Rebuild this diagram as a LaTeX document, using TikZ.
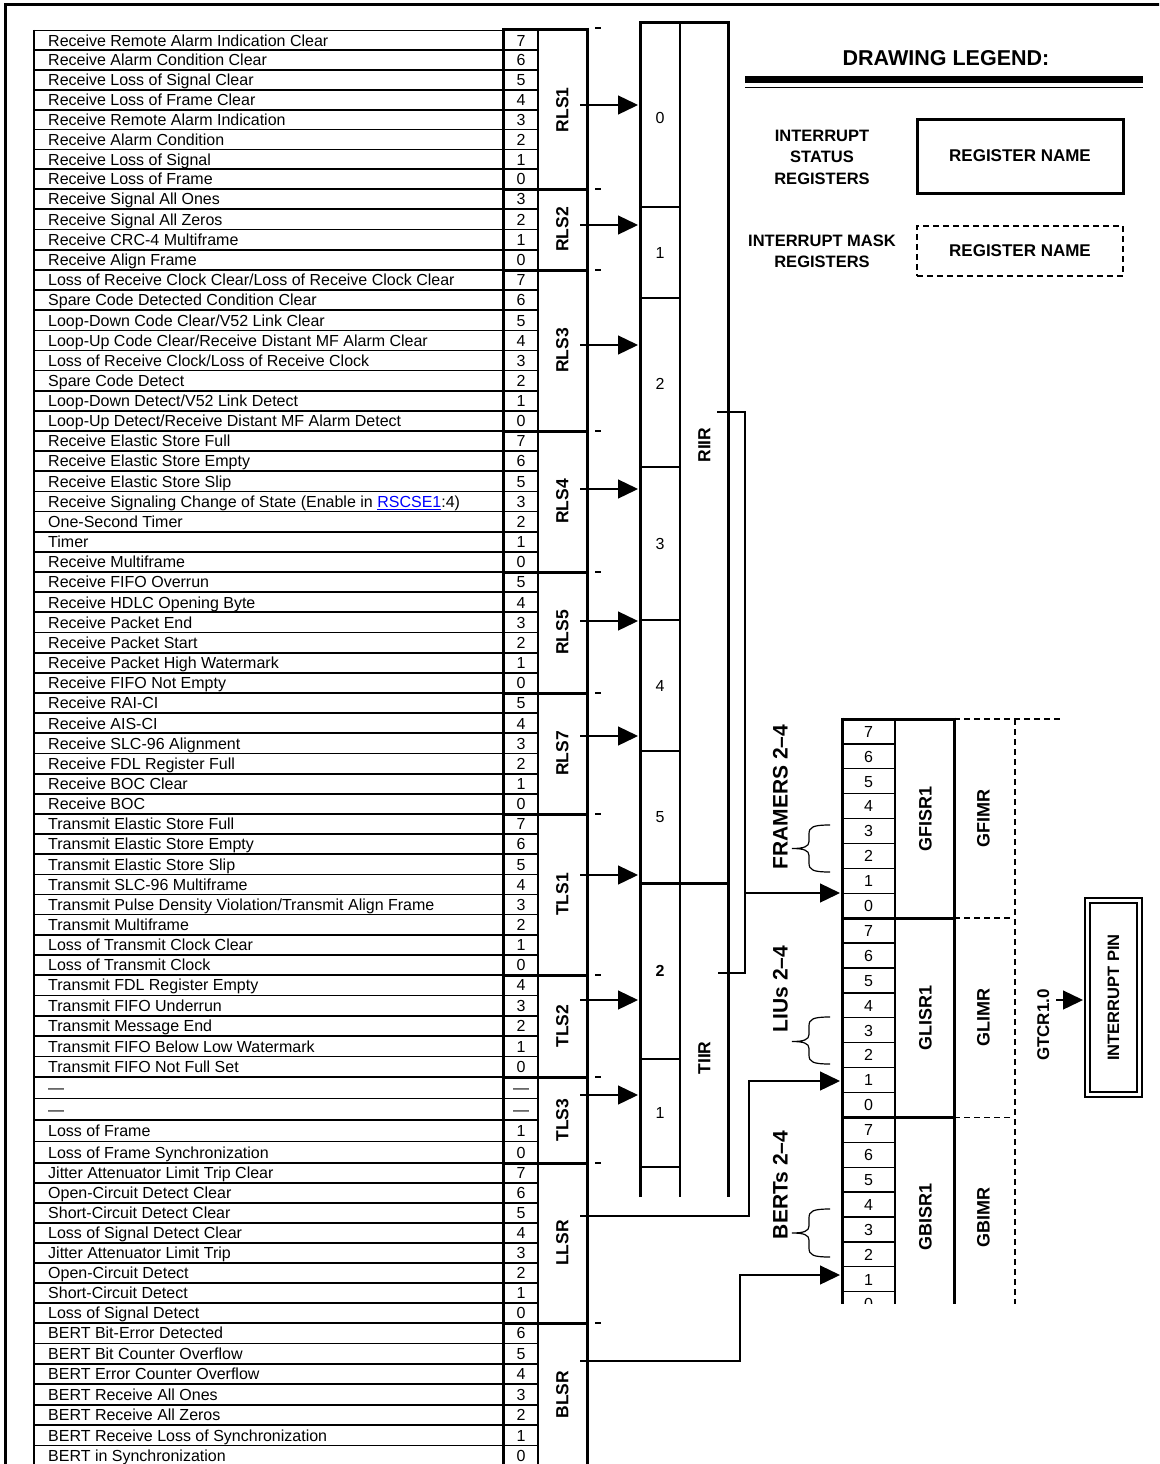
\documentclass[tikz,border=0pt]{standalone}
\usepackage{fontspec}
\setmainfont{Liberation Sans}
\usetikzlibrary{arrows.meta}
\definecolor{linkblue}{RGB}{0,0,255}
\newcommand\lnk[1]{\textcolor{linkblue}{\underline{#1}}}
\tikzset{
  thinln/.style={line width=1.3pt},
  rowln/.style={line width=1.7pt},
  thickln/.style={line width=3pt},
  rowtxt/.style={anchor=west, inner sep=0pt, text height=11.5pt, text depth=0pt, font=\fontsize{16}{18}\selectfont},
  bittxt/.style={inner sep=0pt, text height=11.5pt, text depth=0pt, font=\fontsize{16}{18}\selectfont},
  celltxt/.style={inner sep=0pt, text height=11.5pt, text depth=0pt, font=\fontsize{16}{18}\selectfont},
  grplbl/.style={rotate=90, inner sep=0pt, text height=12.5pt, text depth=0pt, font=\bfseries\fontsize{17.5}{19}\selectfont},
  biglbl/.style={rotate=90, inner sep=0pt, text height=13pt, text depth=0pt, font=\bfseries\fontsize{18}{20}\selectfont},
  sidelbl/.style={rotate=90, inner sep=0pt, text height=15pt, text depth=0pt, font=\bfseries\fontsize{21}{23}\selectfont},
  arr/.style={line width=1.3pt, -{Triangle[length=20pt,width=19pt]}},
  tickmark/.style={line width=1.6pt},
  maskln/.style={line width=1.5pt, dash pattern=on 6pt off 4pt},
  legtxt/.style={font=\bfseries\fontsize{16.5}{21.5}\selectfont, align=center, inner sep=0pt},
  bracepath/.style={line width=1.2pt},
}
\newcommand\regrows[5]{%
  \foreach \tx/\bt [count=\i from 0] in {#5}{%
    \pgfmathsetmacro\rh{(#3-#2)/#4}%
    \pgfmathsetmacro\yc{#2+(\i+0.5)*\rh}%
    \pgfmathsetmacro\yb{#2+(\i+1)*\rh}%
    \node[rowtxt] (#1-t\i) at (48,\yc) {\tx};
    \node[bittxt] (#1-b\i) at (521,\yc) {\bt};
    \draw[rowln] (34,\yb) -- (538,\yb);
  }%
  \draw[thickln] (503,#3) -- (587,#3);
  \draw[tickmark] (595,#3) -- (601,#3);
  \node[grplbl] (#1) at (562,{(#2+#3)/2}) {#1};
}
\newcommand\bracemark[3]{% top, bottom, mid
  \draw[bracepath] (830,#1) .. controls (813,#1) and (809,#1+2) .. (809,#1+9)
    -- (809,#3-7) .. controls (809,#3-2) and (804,#3) .. (792,#3)
    .. controls (804,#3) and (809,#3+2) .. (809,#3+7)
    -- (809,#2-9) .. controls (809,#2-2) and (813,#2) .. (830,#2);
}
\begin{document}
\begin{tikzpicture}[x=1pt,y=-1pt]
\useasboundingbox (0,0) rectangle (1159,1464);
\clip (0,0) rectangle (1159,1464);
\fill[white] (0,0) rectangle (1159,1464);
% outer frame
\draw[line width=3pt] (5.5,1470) -- (5.5,5) -- (1165,5);

% ---------------- left register table ----------------
\draw[rowln] (34,30.5) -- (503,30.5);
\draw[thickln] (503,29.5) -- (587,29.5);
\draw[tickmark] (595,28) -- (601,28);

\regrows{RLS1}{30.5}{189}{8}{{Receive Remote Alarm Indication Clear}/7,{Receive Alarm Condition Clear}/6,{Receive Loss of Signal Clear}/5,{Receive Loss of Frame Clear}/4,{Receive Remote Alarm Indication}/3,{Receive Alarm Condition}/2,{Receive Loss of Signal}/1,{Receive Loss of Frame}/0}
\regrows{RLS2}{189}{270}{4}{{Receive Signal All Ones}/3,{Receive Signal All Zeros}/2,{Receive CRC-4 Multiframe}/1,{Receive Align Frame}/0}
\regrows{RLS3}{270}{431}{8}{{Loss of Receive Clock Clear/Loss of Receive Clock Clear}/7,{Spare Code Detected Condition Clear}/6,{Loop-Down Code Clear/V52 Link Clear}/5,{Loop-Up Code Clear/Receive Distant MF Alarm Clear}/4,{Loss of Receive Clock/Loss of Receive Clock}/3,{Spare Code Detect}/2,{Loop-Down Detect/V52 Link Detect}/1,{Loop-Up Detect/Receive Distant MF Alarm Detect}/0}
\regrows{RLS4}{431}{572}{7}{{Receive Elastic Store Full}/7,{Receive Elastic Store Empty}/6,{Receive Elastic Store Slip}/5,{Receive Signaling Change of State (Enable in \lnk{RSCSE1}:4)}/3,{One-Second Timer}/2,{Timer}/1,{Receive Multiframe}/0}
\regrows{RLS5}{572}{693}{6}{{Receive FIFO Overrun}/5,{Receive HDLC Opening Byte}/4,{Receive Packet End}/3,{Receive Packet Start}/2,{Receive Packet High Watermark}/1,{Receive FIFO Not Empty}/0}
\regrows{RLS7}{693}{814}{6}{{Receive RAI-CI}/5,{Receive AIS-CI}/4,{Receive SLC-96 Alignment}/3,{Receive FDL Register Full}/2,{Receive BOC Clear}/1,{Receive BOC}/0}
\regrows{TLS1}{814}{975}{8}{{Transmit Elastic Store Full}/7,{Transmit Elastic Store Empty}/6,{Transmit Elastic Store Slip}/5,{Transmit SLC-96 Multiframe}/4,{Transmit Pulse Density Violation/Transmit Align Frame}/3,{Transmit Multiframe}/2,{Loss of Transmit Clock Clear}/1,{Loss of Transmit Clock}/0}
\regrows{TLS2}{975}{1077}{5}{{Transmit FDL Register Empty}/4,{Transmit FIFO Underrun}/3,{Transmit Message End}/2,{Transmit FIFO Below Low Watermark}/1,{Transmit FIFO Not Full Set}/0}
\regrows{TLS3}{1077}{1163}{4}{{—}/—,{—}/—,{Loss of Frame}/1,{Loss of Frame Synchronization}/0}
\regrows{LLSR}{1163}{1323}{8}{{Jitter Attenuator Limit Trip Clear}/7,{Open-Circuit Detect Clear}/6,{Short-Circuit Detect Clear}/5,{Loss of Signal Detect Clear}/4,{Jitter Attenuator Limit Trip}/3,{Open-Circuit Detect}/2,{Short-Circuit Detect}/1,{Loss of Signal Detect}/0}
\regrows{BLSR}{1323}{1466}{7}{{BERT Bit-Error Detected}/6,{BERT Bit Counter Overflow}/5,{BERT Error Counter Overflow}/4,{BERT Receive All Ones}/3,{BERT Receive All Zeros}/2,{BERT Receive Loss of Synchronization}/1,{BERT in Synchronization}/0}

% table verticals
\draw[rowln] (34,30) -- (34,1470);
\draw[thickln] (503,28) -- (503,1470);
\draw[thinln] (538,30) -- (538,1470);
\draw[thickln] (587,28) -- (587,1470);

% ---------------- RIIR / TIIR ----------------
\draw[thickln] (640,1197) -- (640,23) -- (728,23) -- (728,1197);
\draw[thinln] (680,23) -- (680,1197);
\foreach \y in {207,298,467,620,751,1059,1167} \draw[thinln] (640,\y) -- (680,\y);
\draw[thickln] (640,883) -- (728,883);
\node[celltxt] (riir0) at (660,118) {0};
\node[celltxt] (riir1) at (660,253) {1};
\node[celltxt] (riir2) at (660,384) {2};
\node[celltxt] (riir3) at (660,544) {3};
\node[celltxt] (riir4) at (660,686) {4};
\node[celltxt] (riir5) at (660,817) {5};
\node[celltxt, font=\bfseries\fontsize{16}{18}\selectfont] (tiir2) at (660,971) {2};
\node[celltxt] (tiir1) at (660,1113) {1};
\node[grplbl] (riir) at (704,445) {RIIR};
\node[grplbl] (tiir) at (704,1058) {TIIR};

% arrows into RIIR / TIIR
\foreach \g/\y in {RLS1/105,RLS2/225,RLS3/345,RLS4/489,RLS5/621,RLS7/736,TLS1/875,TLS2/1000,TLS3/1095}{
  \coordinate (\g-o) at (580,\y);
  \coordinate (\g-i) at (638,\y);
  \draw[arr] (\g-o) -- (\g-i);
}

% ---------------- global status block ----------------
\coordinate (riirO) at (717,412);
\coordinate (tiirO) at (718,973);
\coordinate (gf1) at (840,893);
\coordinate (gl1) at (840,1081);
\coordinate (gb1) at (840,1275);
\coordinate (llsrO) at (580,1216);
\coordinate (blsrO) at (580,1361);
\draw[thinln] (riirO) -- (745,412) -- (745,973) -- (tiirO);
\draw[arr] (745,893) -- (gf1);
\draw[arr] (llsrO) -- (749,1216) -- (749,1081) -- (gl1);
\draw[arr] (blsrO) -- (740,1361) -- (740,1275) -- (gb1);

\begin{scope}
\clip (820,700) rectangle (1100,1303);
\foreach \k in {0,...,23}{
  \pgfmathsetmacro\yc{719+(\k+0.5)*24.9}
  \pgfmathsetmacro\yb{719+(\k+1)*24.9}
  \pgfmathtruncatemacro\bv{7-mod(\k,8)}
  \node[celltxt] (gbit\k) at (868.5,\yc) {\bv};
  \draw[thinln] (842,\yb) -- (895,\yb);
}
\draw[thickln] (842,719) -- (954,719);
\draw[thickln] (842,918.2) -- (954,918.2);
\draw[thickln] (842,1117.4) -- (954,1117.4);
\draw[thickln] (842,717.5) -- (842,1310);
\draw[thinln] (895,719) -- (895,1310);
\draw[thickln] (954,717.5) -- (954,1310);
\draw[maskln] (954,719) -- (1062,719);
\draw[maskln] (1015,719) -- (1015,1310);
\draw[maskln] (954,918.2) -- (1012,918.2);
\draw[maskln] (954,1117.4) -- (1012,1117.4);
\node[biglbl] (gfisr) at (925,818.6) {GFISR1};
\node[biglbl] (glisr) at (925,1017.8) {GLISR1};
\node[biglbl] (gbisr) at (925,1217) {GBISR1};
\node[biglbl] (gfimr) at (983,818.6) {GFIMR};
\node[biglbl] (glimr) at (983,1017.8) {GLIMR};
\node[biglbl] (gbimr) at (983,1217) {GBIMR};
\end{scope}

\bracemark{825}{872}{848.5}
\bracemark{1017}{1064}{1041.5}
\bracemark{1209}{1257}{1233}
\node[sidelbl] (framers) at (780,797) {FRAMERS 2–4};
\node[sidelbl] (lius) at (780,989) {LIUs 2–4};
\node[sidelbl] (berts) at (780,1185) {BERTs 2–4};

% interrupt pin
\node[grplbl, font=\bfseries\fontsize{17}{19}\selectfont, text height=12pt] (gtcr) at (1043,1025) {GTCR1.0};
\node[rotate=90, draw, double, line width=1.5pt, double distance=3.5pt, minimum width=194pt, minimum height=52pt, inner sep=0pt, font=\bfseries\fontsize{16.5}{18}\selectfont] (pin) at (1113.5,997.5) {INTERRUPT PIN};
\coordinate (gtcrO) at (1056,1000);
\coordinate (pinI) at (1083,1000);
\draw[arr] (gtcrO) -- (pinI);

% ---------------- legend ----------------
\node[inner sep=0pt, font=\bfseries\fontsize{21.5}{24}\selectfont] (legtitle) at (946,58) {DRAWING LEGEND:};
\draw[line width=7pt] (745,79.5) -- (1143,79.5);
\draw[line width=1.5pt] (745,87.5) -- (1143,87.5);
\node[legtxt] (isrlbl) at (822,157) {INTERRUPT\\STATUS\\REGISTERS};
\node[draw, line width=3pt, minimum width=206pt, minimum height=74pt, inner sep=0pt, font=\bfseries\fontsize{17}{19}\selectfont] (isrbox) at (1020,156) {REGISTER NAME};
\node[legtxt] (imrlbl) at (822,251.5) {INTERRUPT MASK\\REGISTERS};
\node[draw, maskln, minimum width=206pt, minimum height=50pt, inner sep=0pt, font=\bfseries\fontsize{17}{19}\selectfont] (imrbox) at (1020,251) {REGISTER NAME};
\end{tikzpicture}
\end{document}
